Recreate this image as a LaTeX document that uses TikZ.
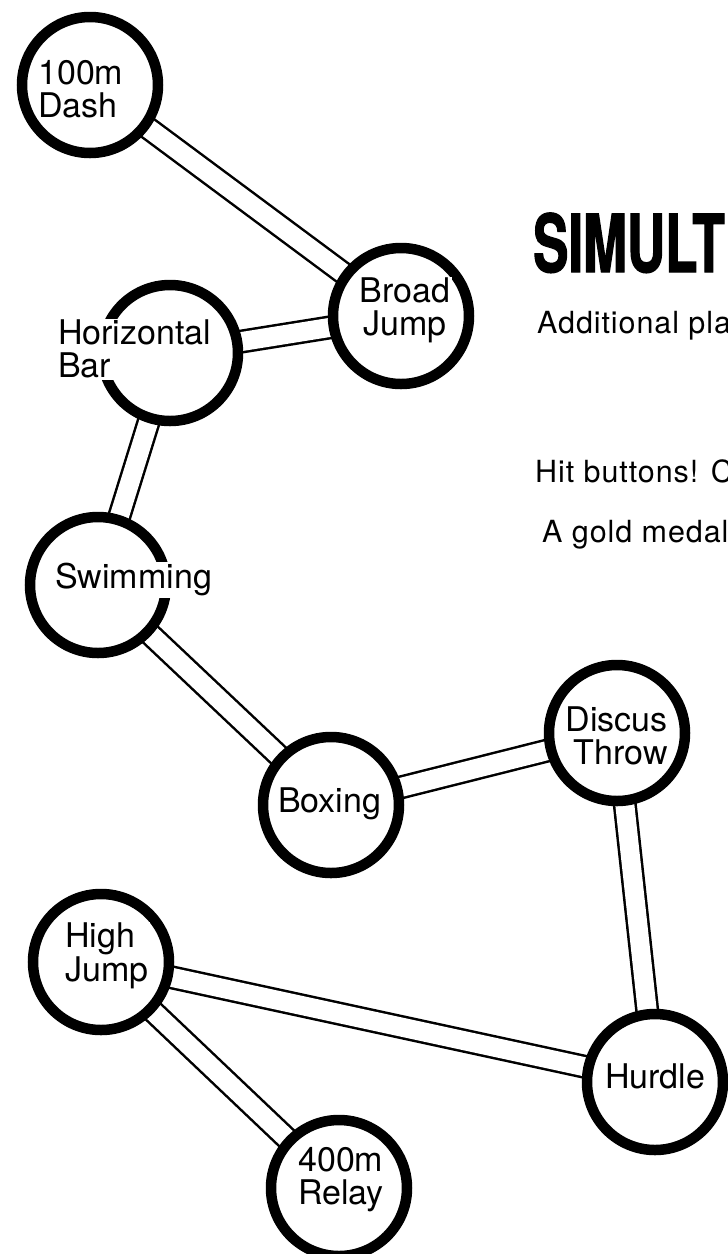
\documentclass[tikz,border=0pt]{standalone}
\usepackage{fontspec}
\setmainfont{TeX Gyre Heros}
\newfontfamily\titlefont[FakeStretch=0.66,FakeBold=1.5]{TeX Gyre Heros}
\newfontfamily\bodyfont[LetterSpace=3]{TeX Gyre Heros}
\usetikzlibrary{backgrounds}
\begin{document}
\begin{tikzpicture}[x=1pt,y=-1pt,
  station/.style={circle, draw=black, line width=10.5pt, fill=white, minimum size=136pt, inner sep=0pt},
  lbl/.style={font=\fontsize{34}{33}\selectfont, inner sep=1.5pt, fill=white},
  body/.style={font=\bodyfont\fontsize{30.5}{30}\selectfont, inner sep=0pt, anchor=base west},
  link/.style={draw=black, line width=2.5pt, double=white, double distance=19pt}
]
\useasboundingbox (0,0) rectangle (728,1254);
\clip (0,0) rectangle (728,1254);
% stations
\node[station] (dash)   at (90,85)   {};
\node[station] (broad)  at (401,316) {};
\node[station] (hbar)   at (170,353) {};
\node[station] (swim)   at (98,585)  {};
\node[station] (box)    at (331,805) {};
\node[station] (discus) at (617,733) {};
\node[station] (hurdle) at (655,1082) {};
\node[station] (high)   at (101,962) {};
\node[station] (relay)  at (339,1188) {};
% labels
\node[lbl, anchor=north west, align=left]   (tdash)   at (36.5,58.5)   {100m\\Dash};
\node[lbl, anchor=north, align=center]      (tbroad)  at (405,276.5)   {Broad\\Jump};
\node[lbl, anchor=north west, align=left]   (thbar)   at (56.5,318.5)  {Horizontal\\Bar};
\node[lbl, anchor=north west]               (tswim)   at (53.5,561.5)  {Swimming};
\node[lbl, anchor=north west]               (tbox)    at (276.5,786.5) {Boxing};
\node[lbl, anchor=north east, align=right]  (tdiscus) at (669.5,705.5) {Discus\\Throw};
\node[lbl, anchor=north west]               (thurdle) at (603.5,1061.5){Hurdle};
\node[lbl, anchor=north west, align=left]   (thigh)   at (63.5,921.5)  {High\\Jump};
\node[lbl, anchor=north west, align=left]   (trelay)  at (296.5,1145.5){400m\\Relay};
% connectors
\begin{scope}[on background layer]
\draw[link] (dash.center) -- (broad.center);
\draw[link] (broad.center) -- (hbar.center);
\draw[link] (hbar.center) -- (swim.center);
\draw[link] (swim.center) -- (box.center);
\draw[link] (box.center) -- (discus.center);
\draw[link] (discus.center) -- (hurdle.center);
\draw[link] (hurdle.center) -- (high.center);
\draw[link] (high.center) -- (relay.center);
\end{scope}
% text
\node[anchor=base west, inner sep=0pt] (title) at (533,272) {\titlefont\bfseries\fontsize{80}{80}\selectfont SIMULT};
\node[body] (l1) at (537,333) {Additional pla};
\node[body] (l2) at (535,482) {Hit buttons! C};
\node[body] (l3) at (542,542) {A gold medal};
\end{tikzpicture}
\end{document}
